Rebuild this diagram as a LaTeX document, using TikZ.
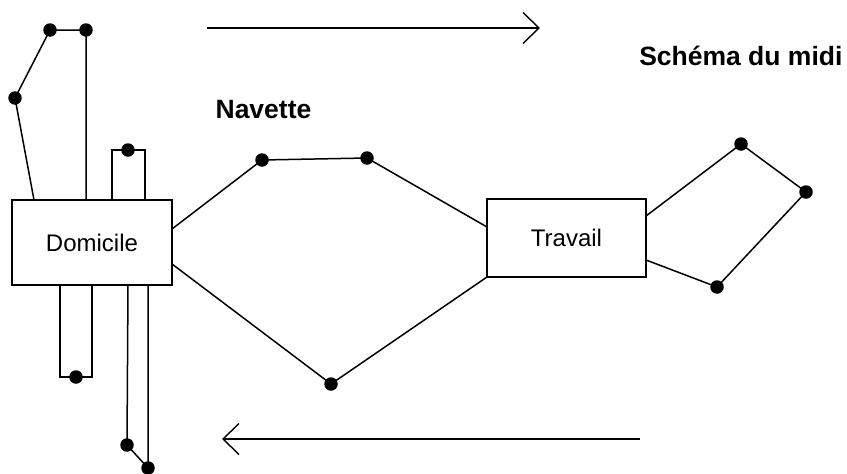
\documentclass[tikz,border=0pt]{standalone}
\usepackage{fontspec}
\setmainfont{Liberation Sans}
\usetikzlibrary{arrows.meta}

\begin{document}
\begin{tikzpicture}[x=1pt,y=-1pt,
		lieu/.style = {draw, line width=1.7pt, inner sep=0pt, fill=white, font=\fontsize{24}{28}\selectfont},
		arret/.style = {circle, fill=black, inner sep=0pt, minimum size=13.5pt},
		trajet/.style = {line width=1.5pt},
		sens/.style = {line width=1.6pt, -{Straight Barb[length=16pt,width=31pt,line width=1.4pt]}},
		titre/.style = {font=\fontsize{26.5}{30}\selectfont\bfseries}]
			\useasboundingbox (0,0) rectangle (847,474);

			\node[lieu, minimum width=160pt, minimum height=85pt] (dom) at (92,242.5) {Domicile\hspace{13pt}};
			\node[lieu, minimum width=159pt, minimum height=78pt] (trav) at (566.5,238) {Travail\hspace{28pt}};

			\node[titre] (navette) at (263.5,110) {Navette};
			\node[titre, anchor=east] (midi) at (846,56) {Schéma du midi};

			% sorties autour du domicile
				\coordinate (domA) at (34,200);
				\coordinate (domB) at (86,200);
				\node[arret] (a1) at (15,98) {};
				\node[arret] (a2) at (50,30) {};
				\node[arret] (a3) at (86,30) {};
				\draw[trajet] (domA) -- (a1.center) -- (a2.center) -- (a3.center) -- (domB);

				\coordinate (domC) at (112,200);
				\coordinate (domD) at (145,200);
				\node[arret] (b1) at (128,150) {};
				\draw[trajet] (domC) |- (b1.center) -| (domD);

				\coordinate (domE) at (60,285);
				\coordinate (domF) at (92,285);
				\node[arret] (c1) at (76,377) {};
				\draw[trajet] (domE) |- (c1.center) -| (domF);

				\coordinate (domG) at (128,285);
				\coordinate (domH) at (148,285);
				\node[arret] (d1) at (127,445) {};
				\node[arret] (d2) at (148,468) {};
				\draw[trajet] (domG) -- (d1.center) -- (d2.center) -- (domH);

			% navette domicile - travail
				\coordinate (domI) at (172,229);
				\coordinate (domJ) at (172,264);
				\coordinate (travA) at (487,227);
				\coordinate (travB) at (487,277);
				\node[arret] (e1) at (262,160) {};
				\node[arret] (e2) at (367,158) {};
				\node[arret] (f1) at (331,384) {};
				\draw[trajet] (domI) -- (e1.center) -- (e2.center) -- (travA);
				\draw[trajet] (domJ) -- (f1.center) -- (travB);

			% schema du midi
				\coordinate (travC) at (646,216);
				\coordinate (travD) at (646,260);
				\node[arret] (g1) at (741,144) {};
				\node[arret] (g2) at (806,192) {};
				\node[arret] (g3) at (717,287) {};
				\draw[trajet] (travC) -- (g1.center) -- (g2.center) -- (g3.center) -- (travD);

			% sens de la navette
				\coordinate (allerA) at (207,28);
				\coordinate (allerB) at (540,28);
				\coordinate (retourA) at (640,439);
				\coordinate (retourB) at (222,439);
				\draw[sens] (allerA) -- (allerB);
				\draw[sens] (retourA) -- (retourB);

		\end{tikzpicture}
\end{document}
